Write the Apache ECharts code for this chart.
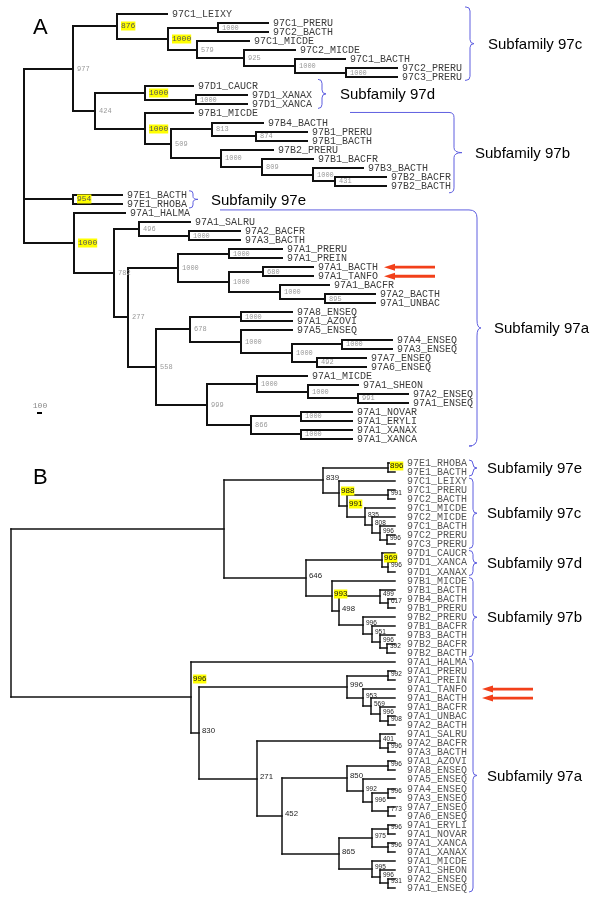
<!DOCTYPE html>
<html><head><meta charset="utf-8">
<script src="https://cdn.jsdelivr.net/npm/echarts@6/dist/echarts.min.js"></script>
<style>html,body{margin:0;padding:0;background:#fff}#c{width:600px;height:903px}</style>
</head><body><div id="c"></div>
<script>
// ---- DATA ----
// Tree A (phylogram), Newick with branch lengths; "*" marks highlighted bootstrap values
const treeA = "((" +
 "(97C1_LEIXY:50,((97C1_PRERU:50,97C2_BACTH:50)1000:50,(97C1_MICDE:52,(97C2_MICDE:51,(97C1_BACTH:50,(97C2_PRERU:51,97C3_PRERU:51)1000:51)1000:51)925:47)579:29)1000*:51)876*:44," +
 "((97D1_CAUCR:48,(97D1_XANAX:51,97D1_XANCA:51)1000:51)1000*:50,(97B1_MICDE:48,((97B4_BACTH:51,(97B1_PRERU:51,97B1_BACTH:51)874:44)813:41,(97B2_PRERU:52,(97B1_BACFR:51,(97B3_BACTH:50,(97B2_BACFR:51,97B2_BACTH:51)431:22)1000:51)809:41)1000:50)509:26)1000*:50)424:22" +
 ")977:49," +
 "(97E1_BACTH:49,97E1_RHOBA:49)954*:49," +
 "(97A1_HALMA:51,((97A1_SALRU:51,(97A2_BACFR:51,97A3_BACTH:51)1000:50)496:25,(((97A1_PRERU:53,97A1_PREIN:53)1000:51,((97A1_BACTH:50,97A1_TANFO:50)680:34,(97A1_BACFR:49,(97A2_BACTH:50,97A1_UNBAC:50)895:45)1000:51)1000:51)1000:50,(((97A8_ENSEQ:51,97A1_AZOVI:51)1000:51,(97A5_ENSEQ:51,((97A4_ENSEQ:50,97A3_ENSEQ:50)1000:50,(97A7_ENSEQ:49,97A6_ENSEQ:49)492:25)1000:51)1000:51)678:34,((97A1_MICDE:50,(97A1_SHEON:50,(97A2_ENSEQ:50,97A1_ENSEQ:50)991:50)1000:51)1000:50,((97A1_NOVAR:51,97A1_ERYLI:51)1000:50,(97A1_XANAX:51,97A1_XANCA:51)1000:50)866:44)999:51)558:28)277:14)782:40)1000*:50" +
 ");";

// Tree B (tips aligned)
const treeB = "(" +
 "(((97E1_RHOBA:7,97E1_BACTH:7)896*:65,(97C1_LEIXY:56,((97C1_PRERU:7,97C2_BACTH:7)991:41,(97C1_MICDE:30,(97C2_MICDE:23,(97C1_BACTH:15,(97C2_PRERU:8,97C3_PRERU:8)996:7)996:8)808:7)835:18)991*:8)988*:16)839:99," +
 "((97D1_CAUCR:13,(97D1_XANCA:7,97D1_XANAX:7)996:6)969*:76,(97B1_MICDE:63,((97B1_BACTH:15,(97B4_BACTH:7,97B1_PRERU:7)617:8)499:41,(97B2_PRERU:32,(97B1_BACFR:23,(97B3_BACTH:15,(97B2_BACFR:8,97B2_BACTH:8)392:7)996:8)951:9)996:24)498:7)993*:26)646:82):213," +
 "(97A1_HALMA:204,(((97A1_PRERU:7,97A1_PREIN:7)992:41,(97A1_TANFO:32,(97A1_BACTH:24,(97A1_BACFR:15,(97A1_UNBAC:7,97A2_BACTH:7)908:8)996:9)569:8)953:16)996:148,((97A1_SALRU:15,(97A2_BACFR:7,97A3_BACTH:7)996:8)401:123,(((97A1_AZOVI:7,97A8_ENSEQ:7)996:41,(97A5_ENSEQ:32,((97A4_ENSEQ:7,97A3_ENSEQ:7)996:16,(97A7_ENSEQ:7,97A6_ENSEQ:7)773:16)996:9)992:16)850:65,(((97A1_ERYLI:7,97A1_NOVAR:7)996:16,(97A1_XANCA:7,97A1_XANAX:7)996:16)975:33,(97A1_MICDE:23,(97A1_SHEON:15,(97A2_ENSEQ:7,97A1_ENSEQ:7)931:8)996:8)995:33)865:57)452:25)271:58)830:8)996*:180" +
 ");";

const subfamiliesA = [
  ['Subfamily 97c', '97C1_LEIXY', '97C3_PRERU'],
  ['Subfamily 97d', '97D1_CAUCR', '97D1_XANCA'],
  ['Subfamily 97b', '97B1_MICDE', '97B2_BACTH'],
  ['Subfamily 97e', '97E1_BACTH', '97E1_RHOBA'],
  ['Subfamily 97a', '97A1_HALMA', '97A1_XANCA']
];
const subfamiliesB = [
  ['Subfamily 97e', '97E1_RHOBA', '97E1_BACTH'],
  ['Subfamily 97c', '97C1_LEIXY', '97C3_PRERU'],
  ['Subfamily 97d', '97D1_CAUCR', '97D1_XANAX'],
  ['Subfamily 97b', '97B1_MICDE', '97B2_BACTH'],
  ['Subfamily 97a', '97A1_HALMA', '97A1_ENSEQ']
];
const markedA = ['97A1_BACTH', '97A1_TANFO'];
const markedB = ['97A1_TANFO', '97A1_BACTH'];
const scaleBarA = { length: 5, label: '100' };

// ---- LAYOUT / STYLE ----
const braceLayoutA = {
  'Subfamily 97c': { x: 470, top: -7, bot: 3, arm: 5, armB: 5, tip: 4, r: 4, tx: 488 },
  'Subfamily 97d': { x: 322, top: -7, bot: 4, arm: 4, armB: 4, tip: 4, r: 4, tx: 340 },
  'Subfamily 97b': { x: 454, top: -1, bot: 7, arm: 104, armB: 5, tip: 8, r: 5, tx: 475 },
  'Subfamily 97e': { x: 193, top: -4, bot: 4, arm: 4, armB: 4, tip: 5, r: 3, tx: 211 },
  'Subfamily 97a': { x: 477, top: -3, bot: 7, arm: 257, armB: 5, tip: 4, r: 8, tx: 494 }
};
const braceB = { x: 473, top: -3, bot: 4, arm: 4, armB: 4, tip: 4, r: 4, tx: 487 };
const MONO = '"Liberation Mono","DejaVu Sans Mono",monospace';
const SANS = '"Liberation Sans",Arial,sans-serif';
const styleA = {
  lineWidth: 2, lineColor: '#111', leafGap: 5, leafFont: '10px ' + MONO, leafColor: '#3c3c3c',
  bsFont: '7px ' + MONO, bsSmallFont: '7px ' + MONO, bsColor: '#999', hlFont: '8px ' + MONO, hlColor: '#555',
  bsDx: 4, bsDy: 0, hlDx: 4, round: true, smallFrom: 9999
};
const styleB = {
  lineWidth: 1.5, lineColor: '#111', leafGap: 12, leafFont: '10px ' + MONO, leafColor: '#555',
  bsFont: '7.8px ' + SANS, bsSmallFont: '6.5px ' + SANS, bsColor: '#222', hlFont: '8px ' + SANS, hlColor: '#111',
  bsDx: 3, bsDy: -2, hlDx: 2, round: true, smallFrom: 360
};

function parseNewick(str) {
  const s = str.replace(/\s+/g, '');
  let i = 0;
  function node() {
    const n = { children: [], name: '', len: 0 };
    if (s[i] === '(') {
      i++;
      n.children.push(node());
      while (s[i] === ',') { i++; n.children.push(node()); }
      i++;
    }
    let name = '';
    while (i < s.length && ',():;'.indexOf(s[i]) < 0) name += s[i++];
    n.name = name;
    if (s[i] === ':') {
      i++; let num = '';
      while (i < s.length && ',();'.indexOf(s[i]) < 0) num += s[i++];
      n.len = parseFloat(num);
    }
    return n;
  }
  return node();
}
function layoutTree(root) {
  const nodes = [], leaves = [];
  (function walk(n, px, parent) {
    n.px = px; n.x = px + n.len; n.parent = parent;
    nodes.push(n);
    if (!n.children.length) { n.y = leaves.length; leaves.push(n); n.yMin = n.yMax = n.y; }
    else {
      n.children.forEach(c => walk(c, n.x, n));
      const ys = n.children.map(c => c.y);
      n.yMin = Math.min.apply(null, ys); n.yMax = Math.max.apply(null, ys);
      n.y = (ys[0] + ys[ys.length - 1]) / 2;
      n.hl = n.name.endsWith('*'); n.label = n.name.replace('*', '');
    }
  })(root, 0, null);
  return { nodes, leaves, idx: name => leaves.findIndex(l => l.name === name) };
}
const TA = layoutTree(parseNewick(treeA));
const TB = layoutTree(parseNewick(treeB));

function treeSeries(T, gi, st, isB) {
  return {
    type: 'custom', coordinateSystem: 'cartesian2d', xAxisIndex: gi, yAxisIndex: gi,
    silent: true, animation: false, clip: false,
    data: T.nodes.map(n => [n.x, n.y]),
    renderItem(params, api) {
      const n = T.nodes[params.dataIndex];
      const R = v => st.round ? Math.round(v) : v;
      const p = api.coord([n.x, n.y]).map(R);
      const ch = [];
      const ls = { stroke: st.lineColor, lineWidth: st.lineWidth, lineCap: 'square' };
      if (n.parent) {
        const q = api.coord([n.px, n.y]).map(R);
        ch.push({ type: 'line', shape: { x1: q[0], y1: p[1], x2: p[0], y2: p[1] }, style: ls });
      }
      if (n.children.length) {
        const a = api.coord([n.x, n.yMin]).map(R), b = api.coord([n.x, n.yMax]).map(R);
        ch.push({ type: 'line', shape: { x1: p[0], y1: a[1], x2: p[0], y2: b[1] }, style: ls });
        if (n.label) {
          let dy = st.bsDy;
          if (isB && n.hl && n.label === '996') dy = -18;
          const f = (p[0] >= st.smallFrom) ? st.bsSmallFont : st.bsFont;
          ch.push({
            type: 'text', x: p[0] + (n.hl ? st.hlDx : st.bsDx), y: p[1] + dy, z2: 20,
            style: n.hl ? {
              text: n.label, fill: st.hlColor, font: st.hlFont, align: 'left', verticalAlign: 'middle',
              backgroundColor: '#ffff00', padding: [1, 0, 0, 0]
            } : { text: n.label, fill: st.bsColor, font: f, align: 'left', verticalAlign: 'middle' }
          });
        }
      } else {
        ch.push({ type: 'text', x: p[0] + st.leafGap, y: p[1], z2: 10,
          style: { text: n.name, fill: st.leafColor, font: st.leafFont, align: 'left', verticalAlign: 'middle' } });
      }
      return { type: 'group', children: ch };
    }
  };
}

function braceSeries(T, list, gi, getLay) {
  return {
    type: 'custom', coordinateSystem: 'cartesian2d', xAxisIndex: gi, yAxisIndex: gi,
    silent: true, animation: false, clip: false,
    data: list.map(s => [0, T.idx(s[1]), T.idx(s[2])]),
    renderItem(params, api) {
      const s = list[params.dataIndex], L = getLay(s[0]);
      const y0 = api.coord([0, api.value(1)])[1] + L.top;
      const y1 = api.coord([0, api.value(2)])[1] + L.bot;
      const ym = (y0 + y1) / 2, x = L.x, r = L.r;
      const d = 'M' + (x - L.arm) + ' ' + y0 + ' L' + (x - r) + ' ' + y0 + ' Q' + x + ' ' + y0 + ' ' + x + ' ' + (y0 + r) +
        ' L' + x + ' ' + (ym - r) + ' Q' + x + ' ' + ym + ' ' + (x + L.tip) + ' ' + ym +
        ' Q' + x + ' ' + ym + ' ' + x + ' ' + (ym + r) + ' L' + x + ' ' + (y1 - r) +
        ' Q' + x + ' ' + y1 + ' ' + (x - r) + ' ' + y1 + ' L' + (x - L.armB) + ' ' + y1;
      return { type: 'group', children: [
        { type: 'path', shape: { pathData: d }, style: { stroke: '#5f5fe0', lineWidth: 1, fill: null } },
        { type: 'text', x: L.tx, y: ym + 1, style: { text: s[0], fill: '#000', font: '15px ' + SANS, align: 'left', verticalAlign: 'middle' } }
      ] };
    }
  };
}

function arrowSeries(T, list, gi, tipX, endX) {
  return {
    type: 'custom', coordinateSystem: 'cartesian2d', xAxisIndex: gi, yAxisIndex: gi,
    silent: true, animation: false, clip: false,
    data: list.map(nm => [0, T.idx(nm)]),
    renderItem(params, api) {
      const y = api.coord([0, api.value(1)])[1];
      const hx = tipX + 11;
      return { type: 'polygon', shape: { points: [[tipX, y], [hx, y - 3.5], [hx, y - 1.4], [endX, y - 1.4], [endX, y + 1.4], [hx, y + 1.4], [hx, y + 3.5]] },
        style: { fill: '#f2401a' } };
    }
  };
}

const chart = echarts.init(document.getElementById('c'), null, { renderer: 'canvas' });
chart.setOption({
  backgroundColor: '#fff',
  animation: false,
  grid: [
    { left: 24, top: 14, width: 400, height: 425 },
    { left: 11, top: 463, width: 400, height: 425 }
  ],
  xAxis: [
    { gridIndex: 0, type: 'value', min: 0, max: 400, show: false },
    { gridIndex: 1, type: 'value', min: 0, max: 400, show: false }
  ],
  yAxis: [
    { gridIndex: 0, type: 'value', min: 0, max: 47, inverse: true, show: false },
    { gridIndex: 1, type: 'value', min: 0, max: 47, inverse: true, show: false }
  ],
  series: [
    braceSeries(TA, subfamiliesA, 0, k => braceLayoutA[k]),
    braceSeries(TB, subfamiliesB, 1, () => braceB),
    treeSeries(TA, 0, styleA, false),
    treeSeries(TB, 1, styleB, true),
    arrowSeries(TA, markedA, 0, 384, 435),
    arrowSeries(TB, markedB, 1, 482, 533)
  ]
});
const sx0 = chart.convertToPixel({ xAxisIndex: 0 }, 13);
const sx1 = chart.convertToPixel({ xAxisIndex: 0 }, 13 + scaleBarA.length);
chart.setOption({
  graphic: [
    { type: 'text', left: 33, top: 17, style: { text: 'A', font: '22px ' + SANS, fill: '#000' } },
    { type: 'text', left: 33, top: 467, style: { text: 'B', font: '22px ' + SANS, fill: '#000' } },
    { type: 'text', x: 40, y: 406, style: { text: scaleBarA.label, font: '8px ' + MONO, fill: '#888', align: 'center', verticalAlign: 'middle' } },
    { type: 'rect', shape: { x: sx0, y: 412, width: sx1 - sx0, height: 2 }, style: { fill: '#000' } }
  ]
});
</script>
</body></html>
